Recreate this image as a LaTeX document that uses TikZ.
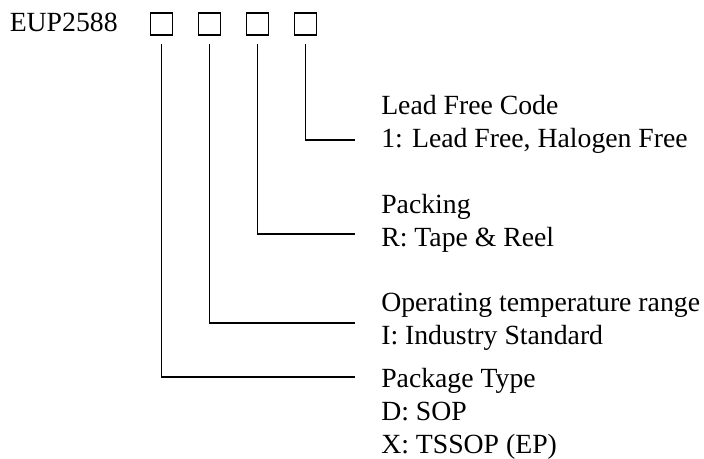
\documentclass[tikz,border=0pt]{standalone}
\usepackage{fontspec}
\setmainfont{Liberation Serif}
\usetikzlibrary{positioning}
\tikzset{>=stealth}
\tikzset{
	% code boxes
	codebox/.style={draw=black,line width=0.8pt,minimum size=16.5pt,inner sep=0pt},
	% text blocks, placed at the baseline of their last line
	desc/.style={anchor=base west,inner sep=0pt,align=left,font=\fontsize{20.8}{24.75}\selectfont},
	% leader lines
	lead/.style={line width=0.8pt},
}

\begin{document}
\begin{tikzpicture}[x=0.75pt,y=-0.75pt]
\useasboundingbox (0,0) rectangle (704,459);
% the part number
\node[desc] (part) at (9.5,32) {EUP2588};
% the four code boxes
\foreach \i/\x in {1/161.5,2/209.5,3/257.5,4/305.5}
  \node[codebox] (b\i) at (\x,24) {};
% what each box means
\node[desc] (t4) at (381,148) {Lead Free Code\\1: Lead Free, Halogen Free};
\node[desc] (t3) at (381,247) {Packing\\R: Tape \& Reel};
\node[desc] (t2) at (381,345) {Operating temperature range\\I: Industry Standard};
\node[desc] (t1) at (381,453.5) {Package Type\\D: SOP\\X: TSSOP (EP)};
% ends of the leader lines
\coordinate (e4) at (355,140);
\coordinate (e3) at (355,234);
\coordinate (e2) at (355,323);
\coordinate (e1) at (355,377);
\foreach \i in {1,...,4}
  \draw[lead] ([yshift=-6pt]b\i.south) |- (e\i);
\end{tikzpicture}
\end{document}
